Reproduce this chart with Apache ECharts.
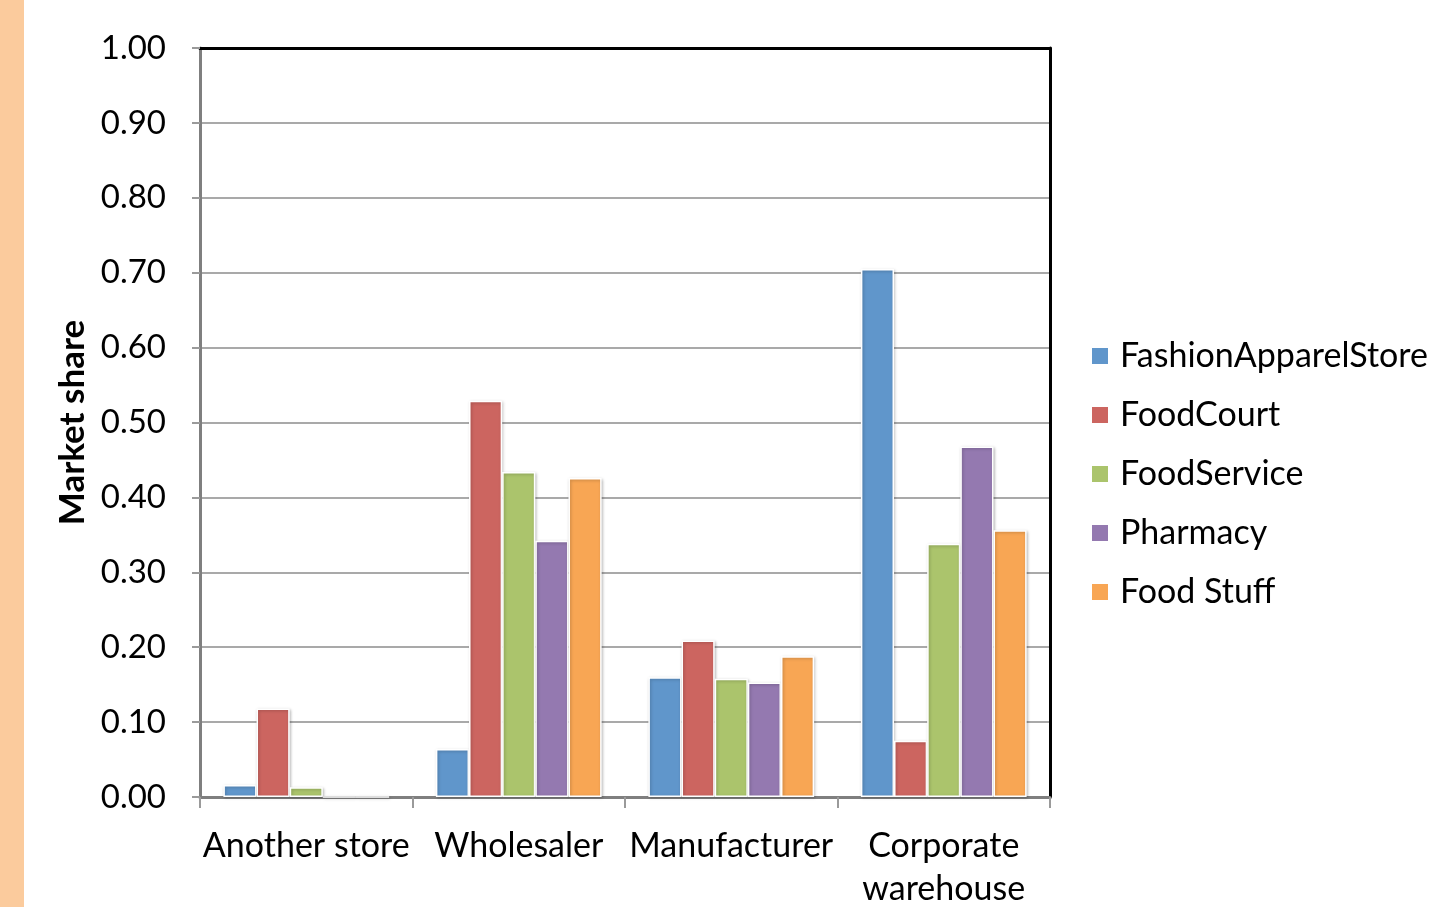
<!DOCTYPE html>
<html><head><meta charset="utf-8">
<script src="https://cdn.jsdelivr.net/npm/echarts@6/dist/echarts.min.js"></script>
<style>html,body{margin:0;padding:0;background:#fff;}#strip{position:absolute;left:0;top:0;width:24px;height:907px;background:#FBCB9D;}#c{width:1433px;height:907px;}</style>
</head><body><div id="strip"></div><div id="c"></div>
<script>
const categories = ['Another store', 'Wholesaler', 'Manufacturer', 'Corporate\nwarehouse'];
const seriesNames = ['FashionApparelStore', 'FoodCourt', 'FoodService', 'Pharmacy', 'Food Stuff'];
const fashionApparelStore = [0.016, 0.064, 0.160, 0.705];
const foodCourt = [0.118, 0.529, 0.209, 0.075];
const foodService = [0.013, 0.434, 0.158, 0.338];
const pharmacy = [0, 0.342, 0.153, 0.468];
const foodStuff = [0, 0.426, 0.188, 0.356];
const colors = ['#6096CB', '#CC6560', '#ABC46C', '#9479B0', '#F8A654'];
const values = [fashionApparelStore, foodCourt, foodService, pharmacy, foodStuff];

const font = 'Lato';
const chart = echarts.init(document.getElementById('c'), null, {renderer: 'canvas'});
chart.setOption({
  animation: false,
  backgroundColor: 'transparent',
  color: colors,
  grid: {left: 200, top: 48, right: 383, bottom: 110, outerBoundsMode: 'none', containLabel: false,
         show: false},
  legend: {
    orient: 'vertical', left: 1085, top: 334,
    itemWidth: 18, itemHeight: 18, itemGap: 25,
    icon: 'rect',
    textStyle: {fontFamily: font, fontSize: 34, color: '#000', lineHeight: 30, padding: [0, 0, 0, 6]},
    data: seriesNames
  },
  xAxis: [{
    type: 'category', data: categories,
    axisLine: {lineStyle: {color: '#7f7f7f', width: 3}},
    axisTick: {show: true, length: 11, lineStyle: {color: '#9a9a9a', width: 2}},
    axisLabel: {fontFamily: font, fontSize: 34, color: '#000', margin: 28, lineHeight: 43, interval: 0}
  }, {
    type: 'category', data: categories, position: 'top',
    axisLine: {show: true, onZero: false, lineStyle: {color: '#000', width: 3}},
    axisTick: {show: false}, axisLabel: {show: false}, splitLine: {show: false}
  }],
  yAxis: [{
    type: 'value', min: 0, max: 1, interval: 0.1,
    name: 'Market share', nameLocation: 'middle', nameGap: 108, nameRotate: 90,
    nameTextStyle: {fontFamily: font, fontSize: 35, fontWeight: 'bold', color: '#000'},
    axisLine: {show: true, lineStyle: {color: '#7f7f7f', width: 3}},
    axisTick: {show: true, length: 8, lineStyle: {color: '#9a9a9a', width: 2}},
    axisLabel: {fontFamily: font, fontSize: 33, color: '#000', margin: 34, formatter: v => v.toFixed(2)},
    splitLine: {lineStyle: {color: '#8c8c8c', width: 1.5}}
  }, {
    type: 'value', min: 0, max: 1, interval: 0.1, position: 'right',
    axisLine: {show: true, onZero: false, lineStyle: {color: '#000', width: 3}},
    axisTick: {show: false}, axisLabel: {show: false}, splitLine: {show: false}
  }],
  series: seriesNames.map((n, i) => ({
    name: n, type: 'bar', data: values[i],
    barGap: '0%', barCategoryGap: '22%',
    itemStyle: {color: colors[i], borderColor: '#fff', borderWidth: 1.5, shadowColor: 'rgba(0,0,0,0.25)', shadowBlur: 3, shadowOffsetX: 1, shadowOffsetY: 1}
  }))
});
</script></body></html>
